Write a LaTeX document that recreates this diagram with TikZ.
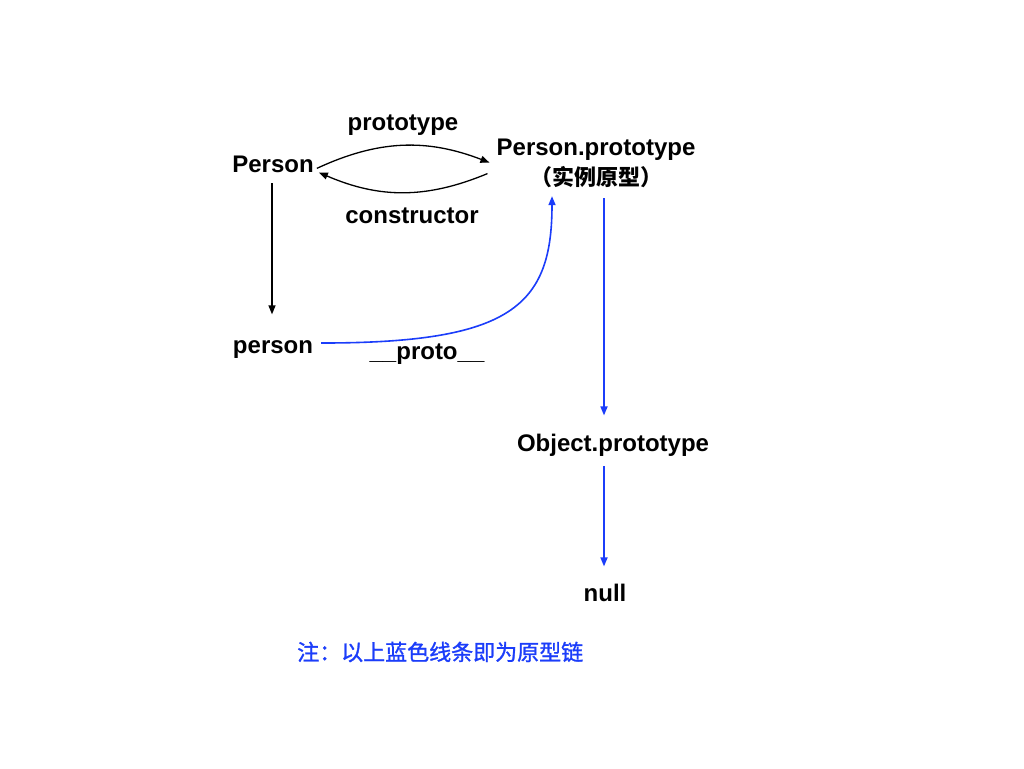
\documentclass[tikz,border=0pt]{standalone}
\usepackage{fontspec}
\setmainfont{Liberation Sans}
\newfontfamily\cjk{Noto Sans CJK SC}
\newfontfamily\cjkmid[FakeBold=1.2]{Noto Sans CJK SC}
\usetikzlibrary{arrows.meta}
\definecolor{ink}{HTML}{000000}
\definecolor{cChain}{HTML}{1B3DFA}

\begin{document}
\begin{tikzpicture}[x=1pt,y=-1pt,
    lbl/.style={inner sep=0pt,anchor=base,text=ink,font=\fontsize{24}{30}\selectfont\bfseries},
    link/.style={draw=ink,line width=1.3pt,-{Triangle[length=9pt,width=7pt]}},
    chain/.style={link,draw=cChain,line width=1.6pt}]
  \useasboundingbox[fill=white] (0,0) rectangle (1024,768);

  \node[lbl] (Person) at (273,172) {Person};
  \node[lbl,anchor=north,align=center] (PersonProto) at (596,139)
    {Person.prototype\\{\fontsize{22}{31}\selectfont\cjk （实例原型）}};
  \node[lbl] (person) at (273,353) {person};
  \node[lbl] (ObjProto) at (613,451) {Object.prototype};
  \node[lbl] (null) at (605,601) {null};

  \node[lbl] (lProto) at (403,130) {prototype};
  \node[lbl] (lCons) at (412,223) {constructor};
  \node[lbl] (lDunder) at (427,359) {\_\_proto\_\_};

  \draw[link] ([shift={(3,4.5)}]Person.east) to[bend left=23] ([shift={(-7,-1)}]PersonProto.west);
  \draw[link] ([shift={(-9,10)}]PersonProto.west) to[bend left=23] ([shift={(5,8.6)}]Person.east);
  \draw[link] ([shift={(-1,11)}]Person.south) -- ([shift={(-1,-25.5)}]person.north);

  \draw[chain] ([shift={(8,-6)}]person.east) .. controls +(190,0) and +(0,110) .. ([shift={(-44,8)}]PersonProto.south);
  \draw[chain] ([shift={(8,10)}]PersonProto.south) -- ([shift={(-9,-18)}]ObjProto.north);
  \draw[chain] ([shift={(-9,10)}]ObjProto.south) -- ([shift={(-1,-17)}]null.north);

  \node[anchor=west,inner sep=0pt,text=cChain,font=\fontsize{22}{26}\selectfont\cjkmid] (note) at (297,652)
    {注：以上蓝色线条即为原型链};
\end{tikzpicture}
\end{document}
